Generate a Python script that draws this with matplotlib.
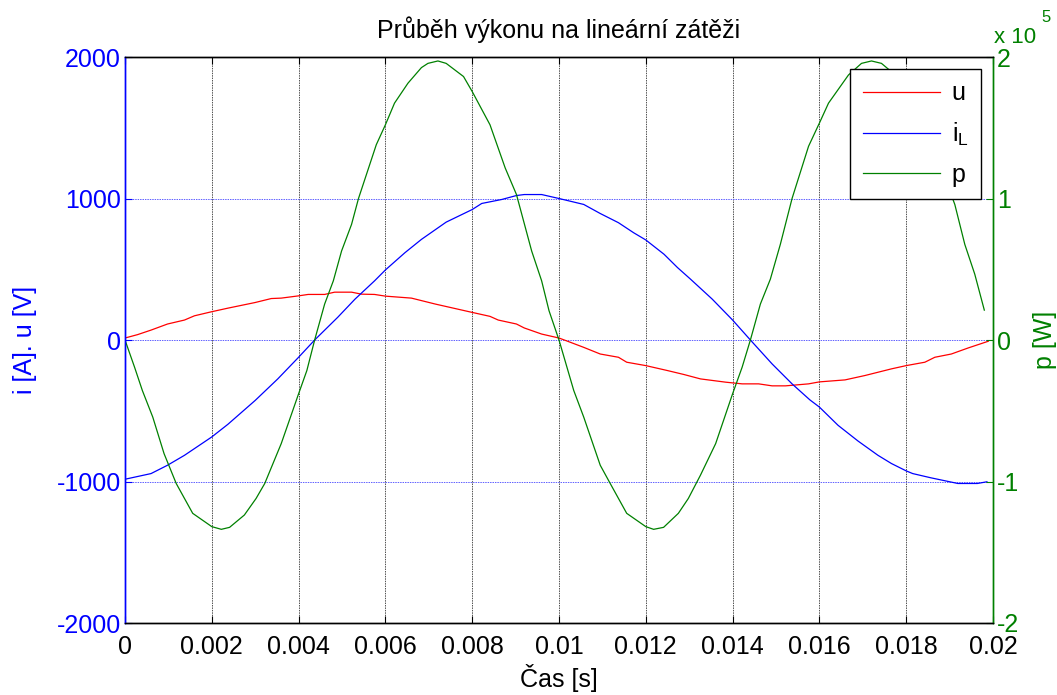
import matplotlib
matplotlib.use("Agg")
import matplotlib.pyplot as plt
from matplotlib.ticker import FuncFormatter, FixedLocator

plt.rcParams['font.family'] = ['Liberation Sans', 'DejaVu Sans']

# ---- data ----
t_i = [0, 0.0006, 0.00098, 0.00137, 0.002, 0.00237, 0.003, 0.00352, 0.004, 0.00437,
       0.0049, 0.0053, 0.00575, 0.006, 0.00645, 0.00683, 0.0074, 0.008, 0.00822, 0.00868,
       0.00902, 0.0092, 0.0096, 0.01, 0.01057, 0.01095, 0.01137, 0.01172, 0.012, 0.01242,
       0.01273, 0.01303, 0.01353, 0.014, 0.01441, 0.01491, 0.01537, 0.01578, 0.016, 0.01643,
       0.01689, 0.01735, 0.01766, 0.018, 0.01815, 0.01857, 0.01919, 0.01964, 0.01986]
i_L = [-984, -944, -885, -815, -685, -596, -427, -275, -122, 0,
       160, 289, 418, 495, 617, 711, 833, 922, 965, 993,
       1021, 1028, 1028, 1000, 958, 894, 829, 758, 707, 606,
       512, 430, 289, 141, 0, -169, -310, -423, -474, -603,
       -714, -815, -873, -925, -944, -974, -1014, -1014, -1002]

t_u = [0, 0.00029, 0.0006, 0.00098, 0.00137, 0.0016, 0.002, 0.00237, 0.003, 0.00337,
       0.0036, 0.004, 0.00422, 0.0046, 0.00483, 0.00522, 0.00545, 0.00575, 0.006, 0.0066,
       0.00715, 0.008, 0.00841, 0.0086, 0.00902, 0.0092, 0.0096, 0.01, 0.0102, 0.01057,
       0.01095, 0.01137, 0.01156, 0.012, 0.0125, 0.01288, 0.01326, 0.01384, 0.01422, 0.0146,
       0.01491, 0.01522, 0.01575, 0.016, 0.01659, 0.01705, 0.01766, 0.018, 0.01843, 0.01866,
       0.01904, 0.01943, 0.01989]
u = [14, 38, 70, 113, 141, 171, 200, 225, 265, 293,
     296, 312, 322, 322, 338, 338, 324, 322, 310, 296,
     254, 195, 167, 141, 113, 85, 42, 14, -9, -52,
     -99, -122, -157, -181, -216, -244, -275, -298, -310, -310,
     -324, -324, -310, -296, -282, -251, -204, -181, -157, -122,
     -99, -56, -9]

t_p = [0, 0.00022, 0.0004, 0.00064, 0.0009, 0.00118, 0.00156, 0.002, 0.00222, 0.00241,
       0.00275, 0.00302, 0.00322, 0.0036, 0.004, 0.00419, 0.00437, 0.0046, 0.0048, 0.00499,
       0.00522, 0.00538, 0.00579, 0.006, 0.00621, 0.00652, 0.00683, 0.00698, 0.00721, 0.0074,
       0.0078, 0.008, 0.00841, 0.00876, 0.00902, 0.00937, 0.0096, 0.00977, 0.01, 0.01034,
       0.01057, 0.01095, 0.01118, 0.01156, 0.012, 0.01218, 0.01241, 0.01275, 0.01298, 0.01326,
       0.01361, 0.014, 0.01422, 0.01441, 0.01464, 0.01487, 0.0151, 0.01537, 0.01575, 0.016,
       0.01621, 0.01667, 0.01697, 0.0172, 0.01743, 0.01766, 0.018, 0.01843, 0.01889, 0.01912,
       0.01935, 0.01958, 0.0198]
p = [0, -19200, -35700, -54500, -80300, -101400, -122500, -131900, -133800, -132400,
     -123700, -112000, -101400, -73200, -38000, -21600, 0, 25400, 41800, 62900,
     81700, 100000, 138000, 152100, 167400, 181500, 192500, 195500, 197200, 195500,
     186200, 175600, 152100, 121600, 102800, 62900, 41800, 20700, 0, -35700,
     -54500, -88500, -101400, -122500, -131900, -133800, -132400, -122500, -112000, -95500,
     -73200, -38000, -19200, 0, 25400, 43000, 67600, 100000, 136900, 153300,
     167400, 187300, 195500, 197200, 195500, 189600, 175600, 149800, 114600, 95800,
     67600, 46500, 21100]

x_ticks = [0, 0.002, 0.004, 0.006, 0.008, 0.01, 0.012, 0.014, 0.016, 0.018, 0.02]
x_labels = ['0', '0.002', '0.004', '0.006', '0.008', '0.01', '0.012', '0.014', '0.016', '0.018', '0.02']
y1_ticks = [-2000, -1000, 0, 1000, 2000]
y2_ticks = [-200000, -100000, 0, 100000, 200000]

title = 'Průběh výkonu na lineární zátěži'
xlabel = 'Čas [s]'
y1label = 'i [A]. u [V]'
y2label = 'p [W]'

# ---- figure ----
W, H = 1057, 695
fig = plt.figure(figsize=(W / 100, H / 100), dpi=100)
ax = fig.add_axes([125 / W, 1 - 623 / H, (993 - 125) / W, (623 - 57) / H])
ax2 = ax.twinx()

fs = 18
blue = '#0000ff'
green = '#008000'
red = '#ff0000'

lu, = ax.plot(t_u, u, color=red, lw=0.9)
li, = ax.plot(t_i, i_L, color=blue, lw=0.9)
lp, = ax2.plot(t_p, p, color=green, lw=0.9)

ax.set_xlim(0, 0.02)
ax.set_ylim(-2000, 2000)
ax2.set_ylim(-200000, 200000)

ax.xaxis.set_major_locator(FixedLocator(x_ticks))
ax.set_xticklabels(x_labels)
ax.set_yticks(y1_ticks)
ax.set_yticklabels([str(v) for v in y1_ticks])
ax2.set_yticks(y2_ticks)
ax2.yaxis.set_major_formatter(FuncFormatter(lambda v, pos: '%g' % (v / 1e5)))

# grid
for xv in x_ticks[1:-1]:
    ax.axvline(xv, color='#505050', lw=0.7, ls=(0, (1.5, 1.0)), zorder=0.5)
for yv in y1_ticks[1:-1]:
    ax.axhline(yv, color='#6060ff', lw=0.7, ls=(0, (1.5, 1.0)), zorder=0.5)

ax.tick_params(axis='x', which='both', direction='in', top=True, length=5,
               labelsize=fs, colors='black', pad=9)
ax.tick_params(axis='y', direction='in', length=5, labelsize=fs, colors=blue, pad=3)
ax2.tick_params(axis='y', direction='in', length=5, labelsize=fs, colors=green, pad=3)

for a in (ax, ax2):
    a.spines['top'].set_color('black')
    a.spines['bottom'].set_color('black')
ax.spines['left'].set_color(blue)
ax2.spines['left'].set_color(blue)
ax2.spines['right'].set_color(green)
ax.spines['right'].set_color(green)
for a in (ax, ax2):
    for s in a.spines.values():
        s.set_linewidth(1.0)

ax.set_title(title, fontsize=18, pad=14)
ax.set_xlabel(xlabel, fontsize=fs, labelpad=3)
ax.set_ylabel(y1label, fontsize=fs, color=blue, labelpad=14)
ax2.set_ylabel(y2label, fontsize=fs, color=green, labelpad=10)

# exponent label
fig.text(994 / W, 1 - 43 / H, 'x 10', fontsize=16, color=green, ha='left', va='baseline')
fig.text(1041 / W, 1 - 22 / H, '5', fontsize=12, color=green, ha='left', va='baseline')

leg = ax2.legend([lu, li, lp], ['u', r'i$_\mathregular{L}$', 'p'],
                 loc='upper right', bbox_to_anchor=(981 / W, 1 - 69 / H),
                 bbox_transform=fig.transFigure, fontsize=fs, frameon=True,
                 fancybox=False, edgecolor='black', framealpha=1,
                 handlelength=3.1, handletextpad=0.45, labelspacing=0.6,
                 borderpad=0.5, borderaxespad=0)
leg.get_frame().set_linewidth(1.0)
leg.set_zorder(10)

fig.savefig('out.png', dpi=100, facecolor='white')
